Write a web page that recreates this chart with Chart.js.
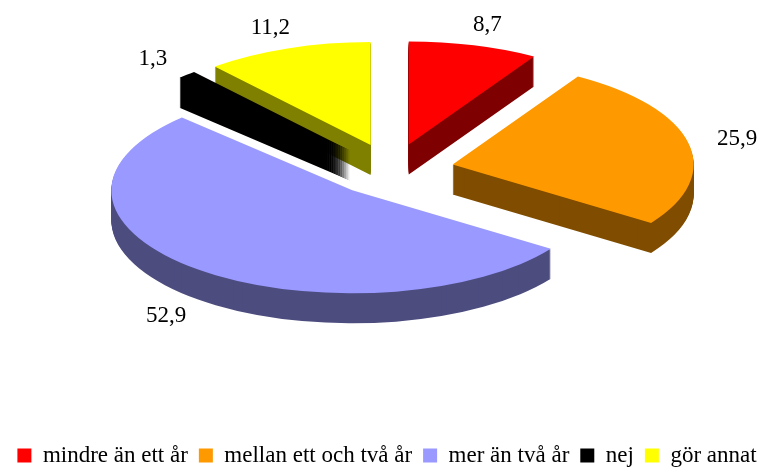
<!DOCTYPE html>
<html>
<head>
<meta charset="utf-8">
<script src="https://cdn.jsdelivr.net/npm/chart.js@4.4.1/dist/chart.umd.min.js"></script>
<style>
  html, body { margin: 0; padding: 0; background: #fff; }
</style>
</head>
<body>
<canvas id="pie" width="774" height="470"></canvas>
<script>
const categories = ['mindre än ett år', 'mellan ett och två år', 'mer än två år', 'nej', 'gör annat'];
const values = [8.7, 25.9, 52.9, 1.3, 11.2];
const colors = ['#FF0000', '#FF9900', '#9999FF', '#000000', '#FFFF00'];

// 3D look: squash of the disc, thickness, how far slices are pulled out
const TILT = 0.4274;
const DEPTH = 30;
const EXPLODE = 62;
const CENTER_X = 392;
const CENTER_Y = 170;
const RADIUS = 241;

// move the library's arc to the tilted, exploded spot
function place(ctx, arc, dy) {
    const mid = (arc.startAngle + arc.endAngle) / 2;
    ctx.translate(CENTER_X, CENTER_Y + dy);
    ctx.scale(1, TILT);
    ctx.translate(Math.cos(mid) * EXPLODE - arc.x, Math.sin(mid) * EXPLODE - arc.y);
}

const pie3d = {
    id: 'pie3d',
    beforeDatasetsDraw(chart) {
        const ctx = chart.ctx;
        const arcs = chart.getDatasetMeta(0).data;

        // sides: stack the slice shape downwards, then darken it to half
        const side = document.createElement('canvas');
        side.width = chart.canvas.width;
        side.height = chart.canvas.height;
        const sctx = side.getContext('2d');
        for (let d = DEPTH; d > 0; d--) {
            arcs.forEach(arc => {
                sctx.save();
                place(sctx, arc, d);
                arc.draw(sctx);
                sctx.restore();
            });
        }
        sctx.globalCompositeOperation = 'source-atop';
        sctx.fillStyle = 'rgba(0,0,0,0.5)';
        sctx.fillRect(0, 0, side.width, side.height);
        ctx.drawImage(side, 0, 0, chart.width, chart.height);

        // tops
        arcs.forEach(arc => {
            ctx.save();
            place(ctx, arc, 0);
            arc.draw(ctx);
            ctx.restore();
        });

        // value labels
        ctx.save();
        ctx.font = '23px "Liberation Serif"';
        ctx.fillStyle = '#000';
        ctx.textAlign = 'center';
        ctx.textBaseline = 'middle';
        arcs.forEach((arc, i) => {
            const mid = (arc.startAngle + arc.endAngle) / 2;
            const r = EXPLODE + arc.outerRadius + 50;
            const x = CENTER_X + Math.cos(mid) * r;
            let y = CENTER_Y + Math.sin(mid) * r * TILT;
            if (Math.sin(mid) > 0) y += DEPTH;
            ctx.fillText(String(values[i]).replace('.', ','), x, y);
        });
        ctx.restore();
        return false;
    }
};

new Chart(document.getElementById('pie'), {
    type: 'pie',
    data: {
        labels: categories,
        datasets: [{
            data: values,
            backgroundColor: colors,
            borderWidth: 0,
            clip: false
        }]
    },
    options: {
        responsive: false,
        animation: false,
        radius: RADIUS,
        layout: { padding: { bottom: -7 } },
        plugins: {
            legend: {
                position: 'bottom',
                labels: {
                    font: { family: '"Liberation Serif", serif', size: 23 },
                    color: '#000',
                    boxWidth: 14,
                    boxHeight: 14,
                    padding: 11
                }
            },
            tooltip: { enabled: false }
        }
    },
    plugins: [pie3d]
});
</script>
</body>
</html>
